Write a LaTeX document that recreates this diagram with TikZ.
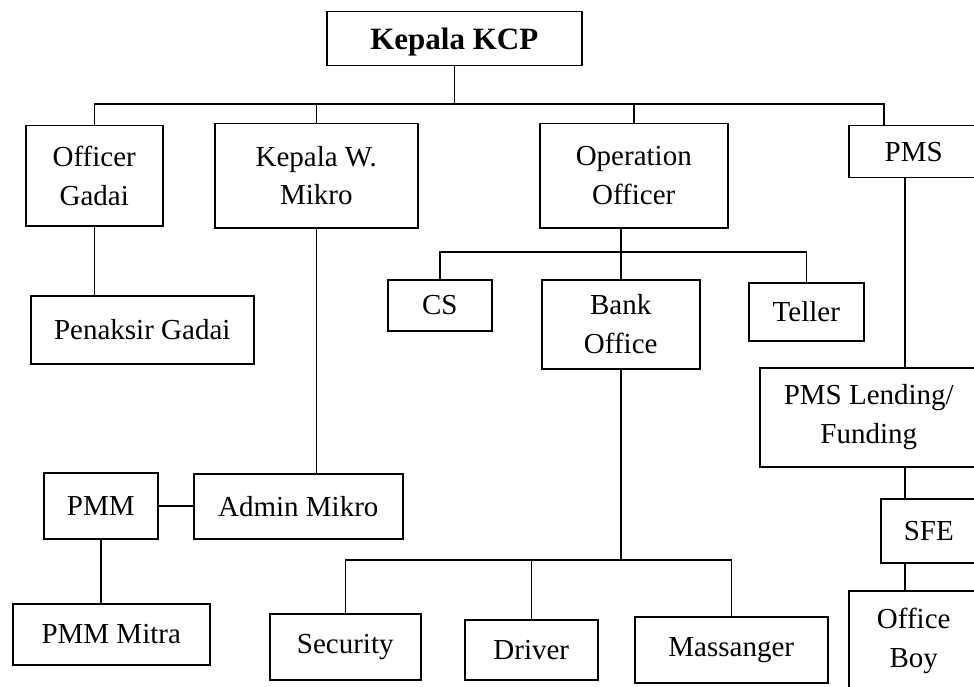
\documentclass[tikz,border=0pt]{standalone}
\usepackage{fontspec}
\setmainfont{Liberation Serif}

\tikzset{
  box/.style={draw, line width=1.5pt, anchor=north west, align=center,
    inner sep=0pt, font={\fontsize{29}{38.5}\selectfont}},
  link/.style={line width=1.5pt}
}

\begin{document}
\begin{tikzpicture}[x=1pt, y=-1pt]

        \useasboundingbox (0,0) rectangle (974,687);
        \clip (0,0) rectangle (974,687);

        \begin{scope}[every node/.style={box}]
          \node[minimum width=255, minimum height=54, text height=28pt, text depth=5.6pt,
                font={\fontsize{31}{38}\selectfont\bfseries}] (kcp) at (326,11) {Kepala KCP};
          \node[minimum width=137, minimum height=100] (og)    at (25,125)  {Officer\\Gadai};
          \node[minimum width=203, minimum height=104] (kwm)   at (214,123) {Kepala W.\\Mikro};
          \node[minimum width=188, minimum height=104] (oo)    at (539,123) {Operation\\Officer};
          \node[minimum width=130, minimum height=52]  (pms)   at (848,125) {PMS};
          \node[minimum width=223, minimum height=68]  (pg)    at (30,295)  {Penaksir Gadai};
          \node[minimum width=104, minimum height=51]  (cs)    at (387,279) {CS};
          \node[minimum width=158, minimum height=89]  (bo)    at (541,279) {Bank\\Office};
          \node[minimum width=115, minimum height=58]  (tel)   at (748,282) {Teller};
          \node[minimum width=218, minimum height=99]  (pl)    at (759,367) {PMS Lending/\\Funding};
          \node[minimum width=114, minimum height=66]  (pmm)   at (43,472)  {PMM};
          \node[minimum width=209, minimum height=65]  (am)    at (193,473) {Admin Mikro};
          \node[minimum width=96,  minimum height=64]  (sfe)   at (880,498) {SFE};
          \node[minimum width=197, minimum height=61]  (mitra) at (12,603)  {PMM Mitra};
          \node[minimum width=151, minimum height=66]  (sec)   at (269,613) {Security};
          \node[minimum width=133, minimum height=60]  (drv)   at (464,619) {Driver};
          \node[minimum width=193, minimum height=66]  (mas)   at (634,616) {Massanger};
          \node[minimum width=130, minimum height=100] (ob)    at (848,590) {Office\\Boy};
        \end{scope}

        \coordinate (bar1) at (0,104);
        \coordinate (bar2) at (0,252);
        \coordinate (bar3) at (0,560);
        \coordinate (ptick) at (884,0);
        \coordinate (rline) at (905,0);

        \begin{scope}[link]
          \draw (kcp.south) -- (kcp.south |- bar1);
          \draw (og.north) -- (og.north |- bar1) -- (ptick |- bar1) -- (ptick |- pms.north);
          \draw (kwm.north) -- (kwm.north |- bar1);
          \draw (oo.north) -- (oo.north |- bar1);

          \draw (og.south) -- (og.south |- pg.north);
          \draw (kwm.south) -- (kwm.south |- am.north);
          \draw (pmm.east) -- (am.west |- pmm.east);
          \draw (pmm.south) -- (pmm.south |- mitra.north);

          \draw (oo.south -| bo.north) -- (bo.north);
          \draw (cs.north) -- (cs.north |- bar2) -- (tel.north |- bar2) -- (tel.north);

          \draw (bo.south) -- (bo.south |- bar3);
          \draw (sec.north) -- (sec.north |- bar3) -- (mas.north |- bar3) -- (mas.north);
          \draw (drv.north) -- (drv.north |- bar3);

          \draw (pms.south -| rline) -- (pl.north -| rline);
          \draw (pl.south -| rline) -- (sfe.north -| rline);
          \draw (sfe.south -| rline) -- (ob.north -| rline);
        \end{scope}

      \end{tikzpicture}
\end{document}
